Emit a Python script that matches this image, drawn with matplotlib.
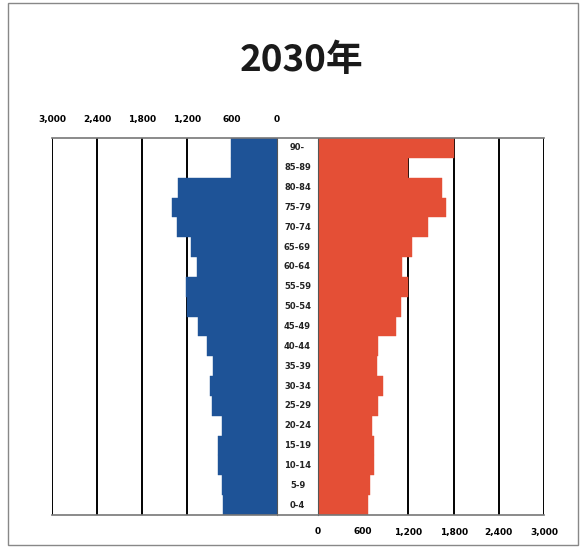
import numpy as np
import matplotlib
matplotlib.use("Agg")
import matplotlib.pyplot as plt
from matplotlib.patches import Rectangle
from matplotlib.lines import Line2D

plt.rcParams['font.family'] = ['Noto Sans CJK JP', 'DejaVu Sans']

# age groups, top to bottom
age_labels = ["90-", "85-89", "80-84", "75-79", "70-74", "65-69", "60-64",
              "55-59", "50-54", "45-49", "40-44", "35-39", "30-34", "25-29",
              "20-24", "15-19", "10-14", "5-9", "0-4"]

# left side (blue) and right side (red), same order as age_labels
male = [620, 620, 1320, 1400, 1340, 1150, 1070, 1210, 1200, 1060,
        930, 860, 890, 870, 740, 790, 790, 730, 720]
female = [1800, 1190, 1640, 1700, 1460, 1250, 1120, 1200, 1100, 1030,
          800, 780, 860, 800, 720, 750, 750, 690, 660]

ticks = [0, 600, 1200, 1800, 2400, 3000]
tick_labels = ["0", "600", "1,200", "1,800", "2,400", "3,000"]

title = "2030年"

blue = "#1e5397"
red = "#e44f36"

W, H = 582, 551
fig = plt.figure(figsize=(W / 100, H / 100), dpi=100)
fig.patch.set_facecolor("white")

def fx(px):
    return px / W

def fy(py):
    return 1 - py / H

top_px, bot_px = 138, 515
l0, l1 = 52, 277
r0, r1 = 318, 544

ax_l = fig.add_axes([fx(l0), fy(bot_px), fx(l1 - l0), fy(top_px) - fy(bot_px)])
ax_r = fig.add_axes([fx(r0), fy(bot_px), fx(r1 - r0), fy(top_px) - fy(bot_px)])

y = np.arange(len(age_labels))[::-1]

for ax, vals, col in [(ax_l, male, blue), (ax_r, female, red)]:
    ax.set_axisbelow(True)
    for t in ticks:
        ax.axvline(t, color="black", lw=1.4, zorder=1)
    ax.barh(y, vals, height=1.0, color=col, edgecolor=col, lw=0.3, zorder=2)
    ax.set_ylim(-0.5, len(age_labels) - 0.5)
    ax.set_yticks([])
    ax.set_xticks(ticks)
    ax.set_xticklabels(tick_labels, fontsize=6.5, fontweight="bold", family="DejaVu Sans")
    ax.tick_params(axis="x", length=0, pad=9)
    for s in ax.spines.values():
        s.set_visible(False)

ax_l.set_xlim(3000, 0)
ax_l.xaxis.tick_top()
ax_l.tick_params(axis="x", pad=10)
ax_r.set_xlim(0, 3000)

# inner edges
for ax, side in [(ax_l, "right"), (ax_r, "left")]:
    ax.spines[side].set_visible(True)
    ax.spines[side].set_color("#555555")
    ax.spines[side].set_linewidth(0.8)

# top and bottom lines across the whole chart
for py in (top_px, bot_px):
    fig.add_artist(Line2D([fx(l0), fx(r1)], [fy(py), fy(py)], color="#777777", lw=1.2))

# age labels in the middle
mid = fx((l1 + r0) / 2)
for i, lab in enumerate(age_labels):
    yy = fy(top_px + (i + 0.5) * (bot_px - top_px) / len(age_labels))
    fig.text(mid, yy, lab, ha="center", va="center", fontsize=6,
             fontweight="bold", family="DejaVu Sans", color="#222222")

fig.text(fx(301), fy(60), title, ha="center", va="center", fontsize=26.5,
         fontweight="bold", color="#1a1a1a")

# scanned frame
fig.add_artist(Rectangle((fx(8), fy(545)), fx(570), fy(3) - fy(545),
                         fill=False, edgecolor="#888888", lw=1.0))

fig.savefig("out.png", dpi=100)
